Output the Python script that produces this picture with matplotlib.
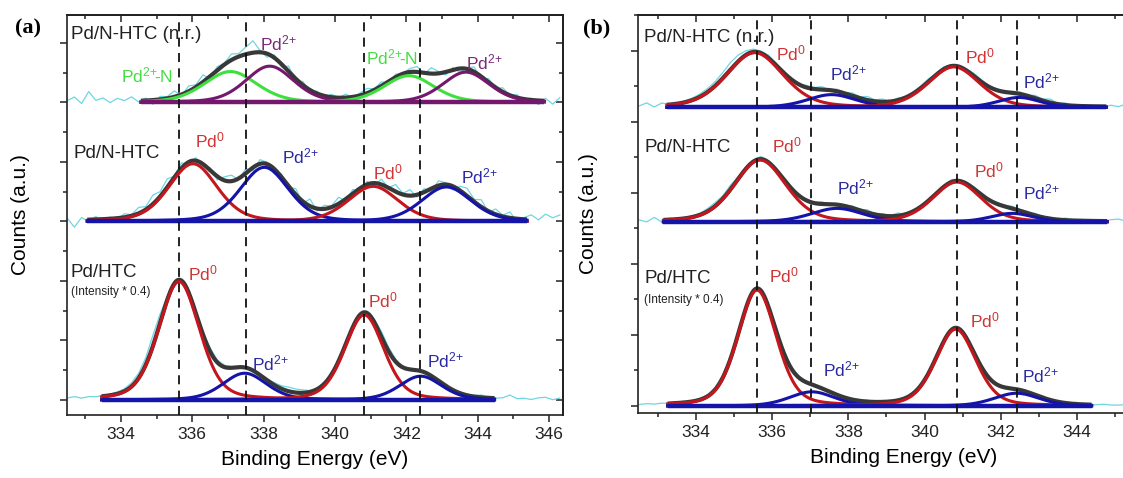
import numpy as np
import matplotlib.pyplot as plt
from matplotlib.ticker import MultipleLocator, FixedLocator

plt.rcParams['font.family'] = ['Liberation Sans', 'DejaVu Sans']
plt.rcParams['mathtext.fontset'] = 'custom'
plt.rcParams['mathtext.rm'] = 'Liberation Sans'
plt.rcParams['mathtext.it'] = 'Liberation Sans:italic'
plt.rcParams['mathtext.bf'] = 'Liberation Sans:bold'

# ---- fitted peaks: centre (eV), height, FWHM (eV) -------------------------
# panel (a)
a_top_centers = [337.07, 338.17, 342.07, 343.67]
a_top_heights = [0.52, 0.61, 0.45, 0.51]
a_top_fwhm = [1.75, 1.6, 1.65, 1.55]
a_mid_centers = [336.02, 338.02, 341.07, 343.12]
a_mid_heights = [0.97, 0.91, 0.59, 0.58]
a_mid_fwhm = [1.6, 1.6, 1.65, 1.65]
a_bot_centers = [335.63, 337.47, 340.82, 342.40]
a_bot_heights = [1.99, 0.45, 1.43, 0.40]
a_bot_fwhm = [1.35, 1.45, 1.3, 1.4]
# panel (b)
b_top_centers = [335.54, 337.56, 340.77, 342.48]
b_top_heights = [0.77, 0.18, 0.57, 0.14]
b_top_fwhm = [1.75, 1.5, 1.6, 1.3]
b_mid_centers = [335.68, 337.70, 340.85, 342.30]
b_mid_heights = [0.87, 0.19, 0.56, 0.12]
b_mid_fwhm = [1.6, 1.6, 1.5, 1.3]
b_bot_centers = [335.60, 337.04, 340.82, 342.42]
b_bot_heights = [1.63, 0.20, 1.08, 0.18]
b_bot_fwhm = [1.2, 1.4, 1.25, 1.4]

# vertical offsets of each spectrum and extent of fitted baseline
a_offsets = [5.0, 3.0, 0.0]
a_ranges = [(334.56, 345.87), (333.06, 345.38), (333.46, 344.47)]
b_offsets = [4.2, 2.59, 0.0]
b_ranges = [(333.23, 344.78), (333.14, 344.80), (333.25, 344.39)]

# dashed reference positions
a_refs = [335.63, 337.50, 340.82, 342.37]
b_refs = [335.60, 337.03, 340.85, 342.42]

# x tick labels
a_ticks = [334, 336, 338, 340, 342, 344, 346]
b_ticks = [334, 336, 338, 340, 342, 344]

# ---- raw data: deviation from fit, every 0.2 eV from 332.5 eV ---------------
raw_be = np.round(np.arange(332.5, 346.41, 0.2), 1)
a_top_dev = [0.02, 0.08, -0.03, 0.17, 0.02, 0.06, -0.02, 0.05, 0.01, 0.07,
             -0.02, 0.04, -0.07, 0.05, 0.03, 0.10, -0.02, 0.09, 0.04, 0.12,
             -0.04, 0.06, 0.02, 0.10, 0.05, 0.12, 0.20, 0.03, -0.06, 0.05,
             -0.05, 0.09, -0.03, 0.06, -0.02, 0.04, -0.03, 0.05, 0.00, 0.06,
             -0.02, 0.04, 0.08, 0.02, 0.07, -0.03, 0.05, 0.00, 0.06, 0.09,
             -0.02, 0.10, 0.03, -0.05, 0.04, -0.06, 0.02, 0.08, -0.04, 0.06,
             -0.02, 0.07, 0.00, 0.05, -0.04, 0.03, -0.07, 0.04, -0.05, 0.06]
a_mid_dev = [0.03, -0.12, 0.04, -0.03, 0.05, -0.05, 0.03, -0.02, 0.06, 0.02,
             0.10, 0.05, 0.15, 0.08, 0.14, 0.02, 0.09, -0.04, 0.05, -0.03,
             0.04, -0.06, 0.06, 0.10, -0.02, 0.08, -0.05, 0.07, 0.03, -0.08,
             0.05, -0.02, 0.10, -0.03, 0.12, -0.04, 0.06, 0.02, 0.11, -0.03,
             0.07, -0.06, 0.05, -0.04, 0.09, 0.00, 0.12, 0.02, 0.10, -0.04,
             0.06, -0.05, 0.08, 0.03, -0.06, 0.07, 0.13, 0.04, 0.12, -0.02,
             0.09, 0.02, 0.10, -0.05, 0.03, 0.08, 0.00, 0.10, 0.04, 0.09]
a_bot_dev = [0.00, 0.02, -0.01, 0.01, 0.00, 0.01, 0.02, 0.03, 0.04, 0.06,
             0.08, 0.12, 0.18, 0.15, 0.05, 0.00, -0.02, 0.00, 0.02, 0.04,
             0.06, 0.04, 0.03, 0.02, 0.00, 0.01, 0.00, 0.01, 0.02, 0.04,
             0.05, 0.07, 0.06, 0.05, 0.02, 0.01, 0.02, 0.00, -0.02, 0.00,
             0.02, 0.00, 0.02, 0.05, 0.09, 0.07, 0.04, 0.02, 0.00, 0.01,
             -0.01, 0.00, 0.01, 0.00, 0.02, 0.00, 0.01, 0.02, 0.04, 0.01,
             0.00, 0.01, 0.06, 0.00, 0.01, -0.01, 0.02, 0.03, -0.01, 0.02]
b_top_dev = [0.00, 0.04, -0.02, 0.03, 0.00, 0.01, 0.02, 0.03, 0.04, 0.05,
             0.06, 0.08, 0.10, 0.09, 0.06, 0.04, 0.03, 0.04, 0.02, 0.00,
             0.02, 0.00, 0.03, 0.02, 0.04, 0.00, 0.03, 0.01, 0.04, 0.02,
             0.05, 0.02, 0.04, 0.00, 0.03, 0.01, 0.02, 0.03, 0.04, 0.02,
             0.03, 0.02, 0.00, 0.02, 0.04, 0.03, 0.01, 0.02, 0.00, 0.02,
             0.03, 0.00, 0.04, 0.02, 0.05, 0.01, 0.03, 0.00, 0.02, 0.00,
             0.01, -0.01, 0.02, 0.00, 0.04, 0.02, 0.05, 0.01, 0.03, 0.00]
b_mid_dev = [0.01, -0.02, 0.04, -0.03, 0.02, 0.00, 0.01, 0.02, 0.02, 0.04,
             0.05, 0.04, 0.06, 0.03, 0.02, 0.00, 0.04, 0.02, 0.00, 0.01,
             0.02, 0.00, 0.02, 0.01, 0.03, 0.00, 0.02, 0.00, 0.03, 0.01,
             0.04, 0.00, 0.03, 0.01, 0.04, 0.00, 0.02, 0.01, 0.02, 0.00,
             0.02, 0.03, 0.01, 0.02, 0.03, 0.02, 0.00, 0.02, 0.01, 0.03,
             0.02, 0.00, 0.03, 0.01, 0.02, 0.00, 0.03, 0.01, 0.02, 0.00,
             0.01, 0.00, 0.02, 0.03, 0.00, 0.02, 0.04, 0.01, 0.00, 0.02]
b_bot_dev = [0.00, 0.01, 0.00, 0.01, 0.00, 0.00, 0.01, 0.01, 0.02, 0.02,
             0.03, 0.04, 0.04, 0.02, 0.01, 0.00, 0.00, 0.01, 0.02, 0.03,
             0.02, 0.02, 0.01, 0.01, 0.00, 0.01, 0.00, 0.01, 0.01, 0.02,
             0.02, 0.01, 0.01, 0.00, 0.01, 0.00, 0.01, 0.00, 0.00, 0.00,
             0.01, 0.00, 0.01, 0.02, 0.03, 0.02, 0.01, 0.01, 0.00, 0.01,
             0.00, 0.00, 0.01, 0.00, 0.01, 0.00, 0.01, 0.00, 0.00, 0.00,
             0.00, 0.01, 0.00, 0.00, 0.01, 0.00, 0.01, 0.02, 0.00, 0.01]

# ---- colours -------------------------------------------------------------
RED = '#c4161c'
BLUE = '#1414a8'
PURPLE = '#74186e'
GREEN = '#3ee03e'
ENVELOPE = '#383838'
RAW = '#6fd6e2'
RED_T = '#d03434'
BLUE_T = '#2a2aa0'
PURPLE_T = '#7a2a78'
GREEN_T = '#44dd44'


def peak(x, c, h, w, eta=0.3):
    # pseudo-Voigt fit component
    g = np.exp(-4 * np.log(2) * ((x - c) / w) ** 2)
    lo = 1.0 / (1.0 + 4 * ((x - c) / w) ** 2)
    return h * (eta * lo + (1 - eta) * g)


def draw_spectrum(ax, centers, heights, fwhm, colors, offset, rng, dev):
    raw = offset + np.array(dev)
    for c, h, w in zip(centers, heights, fwhm):
        raw = raw + peak(raw_be, c, h, w)
    ax.plot(raw_be, raw, color=RAW, lw=0.9, zorder=1)
    x = np.linspace(rng[0], rng[1], 500)
    env = np.zeros_like(x)
    for c, h, w in zip(centers, heights, fwhm):
        env += peak(x, c, h, w)
    ax.plot(x, offset + env, color=ENVELOPE, lw=3.0, zorder=2,
            solid_capstyle='butt')
    for c, h, w, col in zip(centers, heights, fwhm, colors):
        ax.plot(x, offset + peak(x, c, h, w), color=col, lw=2.2, zorder=3)
    ax.plot([rng[0], rng[1]], [offset, offset], color=colors[-1], lw=3.2,
            zorder=4, solid_capstyle='butt')


def style_axis(ax, xlim, ylim, ticks, ylabelpad):
    ax.set_xlim(*xlim)
    ax.set_ylim(*ylim)
    ax.xaxis.set_major_locator(FixedLocator(ticks))
    ax.xaxis.set_minor_locator(MultipleLocator(1))
    ax.yaxis.set_major_locator(MultipleLocator(1))
    ax.yaxis.set_minor_locator(MultipleLocator(0.5))
    ax.tick_params(axis='x', which='both', direction='out', top=False,
                   labelsize=12.5, colors='#222222', pad=4)
    ax.tick_params(axis='y', which='both', direction='out', labelleft=False,
                   colors='#222222')
    ax.tick_params(which='major', length=5, width=1.1)
    ax.tick_params(which='minor', length=3, width=1.1)
    sec_x = ax.secondary_xaxis('top')
    sec_x.xaxis.set_major_locator(MultipleLocator(2))
    sec_x.xaxis.set_minor_locator(MultipleLocator(1))
    sec_x.tick_params(which='both', direction='in', labeltop=False,
                      colors='#222222', width=1.1)
    sec_x.tick_params(which='major', length=5)
    sec_x.tick_params(which='minor', length=3)
    sec_x.spines['top'].set_linewidth(1.2)
    sec_y = ax.secondary_yaxis('right')
    sec_y.yaxis.set_major_locator(MultipleLocator(1))
    sec_y.yaxis.set_minor_locator(MultipleLocator(0.5))
    sec_y.tick_params(which='both', direction='in', labelright=False,
                      colors='#222222', width=1.1)
    sec_y.tick_params(which='major', length=5)
    sec_y.tick_params(which='minor', length=3)
    sec_y.spines['right'].set_linewidth(1.2)
    for s in ax.spines.values():
        s.set_linewidth(1.2)
        s.set_color('#222222')
    ax.set_xlabel('Binding Energy (eV)', fontsize=15, labelpad=6)
    ax.set_ylabel('Counts (a.u.)', fontsize=15, labelpad=ylabelpad)


fig = plt.figure(figsize=(11.23, 4.78), dpi=100)
W, H = 1123.0, 478.0
ax_a = fig.add_axes([67.3 / W, 1 - 414.5 / H, 495.4 / W, 399.5 / H])
ax_b = fig.add_axes([638.3 / W, 1 - 412.5 / H, 529.8 / W, 397.5 / H])

# panel (a)
draw_spectrum(ax_a, a_top_centers, a_top_heights, a_top_fwhm,
              [GREEN, PURPLE, GREEN, PURPLE], a_offsets[0], a_ranges[0], a_top_dev)
draw_spectrum(ax_a, a_mid_centers, a_mid_heights, a_mid_fwhm,
              [RED, BLUE, RED, BLUE], a_offsets[1], a_ranges[1], a_mid_dev)
draw_spectrum(ax_a, a_bot_centers, a_bot_heights, a_bot_fwhm,
              [RED, BLUE, RED, BLUE], a_offsets[2], a_ranges[2], a_bot_dev)
for xv in a_refs:
    ax_a.axvline(xv, color='#111111', lw=1.3, ls=(0, (5, 3.5)), zorder=5)
style_axis(ax_a, (332.5, 346.38), (-0.244, 6.47), a_ticks, 22)

# panel (b)
draw_spectrum(ax_b, b_top_centers, b_top_heights, b_top_fwhm,
              [RED, BLUE, RED, BLUE], b_offsets[0], b_ranges[0], b_top_dev)
draw_spectrum(ax_b, b_mid_centers, b_mid_heights, b_mid_fwhm,
              [RED, BLUE, RED, BLUE], b_offsets[1], b_ranges[1], b_mid_dev)
draw_spectrum(ax_b, b_bot_centers, b_bot_heights, b_bot_fwhm,
              [RED, BLUE, RED, BLUE], b_offsets[2], b_ranges[2], b_bot_dev)
for xv in b_refs:
    ax_b.axvline(xv, color='#111111', lw=1.3, ls=(0, (5, 3.5)), zorder=5)
style_axis(ax_b, (332.48, 346.4), (-0.091, 5.5), b_ticks, 24)

PD0 = r'Pd$^{0}$'
PD2 = r'Pd$^{2\!+}$'
PDN = r'Pd$^{2\!+\!\!\!}$-N'
fs_lab = 13.5
fs_pk = 12.5


def put(ax, x, y, s, color='#222222', size=fs_pk):
    ax.text(x, y, s, color=color, fontsize=size, ha='left', va='center',
            zorder=6)


# labels, panel (a)
put(ax_a, 332.6, 6.15, 'Pd/N-HTC (n.r.)', size=fs_lab)
put(ax_a, 334.0, 5.45, PDN, GREEN_T)
put(ax_a, 337.9, 6.0, PD2, PURPLE_T)
put(ax_a, 340.87, 5.75, PDN, GREEN_T)
put(ax_a, 343.68, 5.68, PD2, PURPLE_T)
put(ax_a, 332.66, 4.15, 'Pd/N-HTC', size=fs_lab)
put(ax_a, 336.08, 4.37, PD0, RED_T)
put(ax_a, 338.52, 4.10, PD2, BLUE_T)
put(ax_a, 341.07, 3.82, PD0, RED_T)
put(ax_a, 343.54, 3.75, PD2, BLUE_T)
put(ax_a, 332.6, 2.15, 'Pd/HTC', size=fs_lab)
put(ax_a, 332.6, 1.82, '(Intensity * 0.4)', size=8.5)
put(ax_a, 335.87, 2.12, PD0, RED_T)
put(ax_a, 340.93, 1.68, PD0, RED_T)
put(ax_a, 337.68, 0.62, PD2, BLUE_T)
put(ax_a, 342.59, 0.67, PD2, BLUE_T)

# labels, panel (b)
put(ax_b, 332.63, 5.18, 'Pd/N-HTC (n.r.)', size=fs_lab)
put(ax_b, 336.10, 4.96, PD0, RED_T)
put(ax_b, 337.51, 4.68, PD2, BLUE_T)
put(ax_b, 341.06, 4.91, PD0, RED_T)
put(ax_b, 342.60, 4.56, PD2, BLUE_T)
put(ax_b, 332.63, 3.63, 'Pd/N-HTC', size=fs_lab)
put(ax_b, 336.00, 3.66, PD0, RED_T)
put(ax_b, 337.70, 3.07, PD2, BLUE_T)
put(ax_b, 341.29, 3.32, PD0, RED_T)
put(ax_b, 342.60, 3.01, PD2, BLUE_T)
put(ax_b, 332.63, 1.80, 'Pd/HTC', size=fs_lab)
put(ax_b, 332.63, 1.49, '(Intensity * 0.4)', size=8.5)
put(ax_b, 335.91, 1.84, PD0, RED_T)
put(ax_b, 341.20, 1.20, PD0, RED_T)
put(ax_b, 337.32, 0.51, PD2, BLUE_T)
put(ax_b, 342.57, 0.43, PD2, BLUE_T)

fig.text(15 / W, 1 - 28 / H, '(a)', fontsize=16, fontweight='bold',
         family='Liberation Serif', va='center', ha='left')
fig.text(583 / W, 1 - 28 / H, '(b)', fontsize=16, fontweight='bold',
         family='Liberation Serif', va='center', ha='left')

fig.savefig('out.png', dpi=100)
